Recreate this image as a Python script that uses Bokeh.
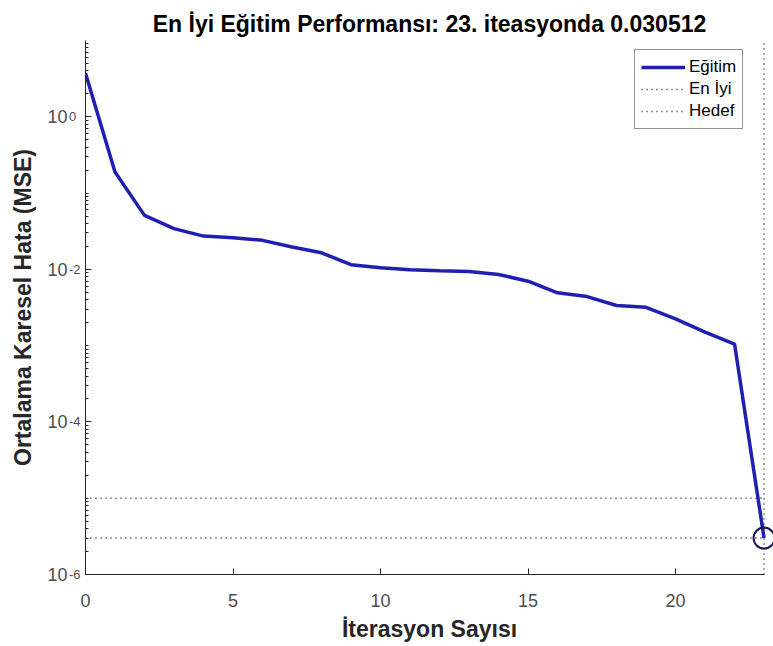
from bokeh.plotting import figure
from bokeh.models import FixedTicker, Legend, LegendItem, Range1d, LogAxis
from bokeh.embed import file_html
from bokeh.resources import INLINE

# Data
iterations = list(range(24))
mse = [3.72, 0.189, 0.051, 0.0342, 0.0273, 0.026, 0.024, 0.0196, 0.0165, 0.0115,
       0.0105, 0.00989, 0.00959, 0.00938, 0.00857, 0.0070, 0.00493, 0.0044,
       0.00336, 0.00318, 0.00224, 0.0015, 0.00105, 3.0e-6]
best_epoch = 23
best_value = 3.0e-6
goal_value = 1.0e-5
x_ticks = [0, 5, 10, 15, 20]
y_ticks = [1e-6, 1e-4, 1e-2, 1e0]
y_tick_base = "10"
# exponents, right-aligned; a three-per-em space stands in for the missing minus sign
y_tick_exponents = ["-6", "-4", "-2", "0\u2004"]
title_text = "En İyi Eğitim Performansı: 23. iteasyonda 0.030512"
x_label = "İterasyon Sayısı"
y_label = "Ortalama Karesel Hata (MSE)"
legend_labels = ["Eğitim", "En İyi", "Hedef"]

FONT = "Liberation Sans"
X_END = 23.32
Y_MIN, Y_MAX = 1e-6, 1e1

p = figure(frame_width=688, frame_height=534, y_axis_type="log",
           x_range=Range1d(0, X_END), y_range=Range1d(Y_MIN, Y_MAX),
           output_backend="svg", toolbar_location=None,
           min_border_left=85, min_border_right=0, min_border_top=40, min_border_bottom=72)
p.outline_line_color = None
p.grid.visible = False
p.background_fill_color = "white"

p.title.text = title_text
p.title.text_font = FONT
p.title.text_font_size = "23px"
p.title.text_font_style = "bold"
p.title.align = "center"
p.title.offset = -5
p.title.standoff = 7
p.title.text_color = "#000000"

# axes styling
for ax in (p.xaxis[0], p.yaxis[0]):
    ax.axis_line_color = "#262626"
    ax.major_tick_line_color = "#262626"
    ax.minor_tick_line_color = "#262626"
    ax.major_tick_in = 6
    ax.major_tick_out = 0
    ax.minor_tick_in = 3
    ax.minor_tick_out = 0
    ax.major_label_text_font = FONT
    ax.major_label_text_font_size = "18px"
    ax.major_label_text_color = "#4d4d4d"
    ax.axis_label_text_font = FONT
    ax.axis_label_text_font_size = "23px"
    ax.axis_label_text_font_style = "bold"
    ax.axis_label_text_color = "#262626"

p.xaxis.ticker = FixedTicker(ticks=x_ticks, minor_ticks=[])
p.xaxis.bounds = (0, best_epoch)
p.xaxis.axis_label = x_label
p.xaxis.major_label_standoff = 19
p.xaxis.axis_label_standoff = 6

minor = []
for k in range(-6, 1):
    for m in range(1, 10):
        v = m * 10.0 ** k
        if m == 1 and k % 2 == 0:
            continue
        minor.append(v)

# inner left axis: ticks, axis line and the superscript exponents
yax = p.yaxis[0]
yax.ticker = FixedTicker(ticks=y_ticks, minor_ticks=minor)
yax.major_label_overrides = dict(zip(y_ticks, y_tick_exponents))
yax.major_label_text_font_size = "13px"
yax.major_label_text_baseline = "bottom"
yax.major_label_standoff = 5

# outer left axis: the "10" bases and the axis title
base_ax = LogAxis(ticker=FixedTicker(ticks=y_ticks, minor_ticks=[]),
                  major_label_overrides={t: y_tick_base for t in y_ticks},
                  axis_line_color=None, major_tick_line_color=None,
                  minor_tick_line_color=None,
                  major_label_text_font=FONT, major_label_text_font_size="18px",
                  major_label_text_color="#4d4d4d", major_label_standoff=-8,
                  axis_label=y_label, axis_label_text_font=FONT,
                  axis_label_text_font_size="23px", axis_label_text_font_style="bold",
                  axis_label_text_color="#262626", axis_label_standoff=8)
p.add_layout(base_ax, "left")

# reference lines
goal_r = p.line([0, best_epoch], [goal_value, goal_value], line_color="#222222",
                line_width=1.5, line_dash="1 4")
best_h = p.line([0, best_epoch], [best_value, best_value], line_color="#222222",
                line_width=1.5, line_dash="1 4")
best_v = p.line([best_epoch, best_epoch], [Y_MIN, Y_MAX], line_color="#222222",
                line_width=1.5, line_dash="1 4")

train_r = p.line(iterations, mse, line_color="#1f1fb0", line_width=3.5)
p.scatter([best_epoch], [best_value], marker="circle", size=21, fill_color=None,
          line_color="#141450", line_width=2)

legend = Legend(items=[LegendItem(label=legend_labels[0], renderers=[train_r]),
                       LegendItem(label=legend_labels[1], renderers=[best_h]),
                       LegendItem(label=legend_labels[2], renderers=[goal_r])],
                location=(549, 445))
legend.label_text_font = FONT
legend.label_text_font_size = "17px"
legend.label_text_color = "#000000"
legend.border_line_color = "#262626"
legend.border_line_width = 1
legend.background_fill_alpha = 1
legend.padding = 6
legend.spacing = 0
legend.margin = 0
legend.label_height = 22
legend.glyph_height = 22
legend.glyph_width = 44
legend.label_standoff = 4
p.add_layout(legend, "center")

open("out.html", "w").write(file_html(p, INLINE))
